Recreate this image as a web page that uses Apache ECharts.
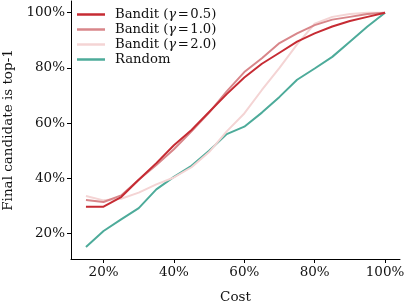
<!DOCTYPE html>
<html><head><meta charset="utf-8">
<script src="https://cdn.jsdelivr.net/npm/echarts@6/dist/echarts.min.js"></script>
<style>html,body{margin:0;padding:0;background:#fff}#c{width:407px;height:305px}</style>
</head><body><div id="c"></div>
<script>
const cost = [15,20,25,30,35,40,45,50,55,60,65,70,75,80,85,90,95,100];
const bandit05 = [29.7,29.7,33.2,39.5,45.5,52,57.5,64,70.5,76.5,81.5,85.5,89.5,92.5,95,97,98.5,100];
const bandit10 = [32.1,31.4,33.8,39.5,44.8,50.5,57,63.8,71.5,78.5,83.5,89,92.5,95.5,97.5,98.5,99.5,100];
const bandit20 = [33.6,32,32.6,34.8,37.8,40.3,44,49.5,57,63.5,72,80,88.5,96,98.5,99.5,100,100];
const random = [15.1,20.9,25.1,29.2,36,40.5,44.5,50,56,58.7,63.8,69.5,75.7,79.8,84,89.5,95,100];
const tickVals = [20,40,60,80,100];
const names = ['Bandit (γ = 0.5)','Bandit (γ = 1.0)','Bandit (γ = 2.0)','Random'];
const gammas = ['0.5','1.0','2.0'];

const font = 'DejaVu Serif';
const fs = 13.5;
const lfs = 13.2;
const colors = ['#c62b33','#d8868a','#f4d4d4','#4dab9a'];
const sets = [bandit05,bandit10,bandit20,random];
const chart = echarts.init(document.getElementById('c'));
chart.setOption({
  animation:false,
  grid:{left:71,right:7,top:1,bottom:46,containLabel:false,outerBoundsMode:'none'},
  legend:{
    left:77, top:7, padding:0, orient:'vertical', icon:'rect', itemWidth:28, itemHeight:2.5, itemGap:0,
    data:names,
    textStyle:{fontFamily:font,fontSize:lfs,color:'#111',lineHeight:15,padding:[0,0,0,5],
      rich:{g:{fontFamily:font,fontStyle:'italic',fontSize:lfs,color:'#111',lineHeight:15},
            e:{fontFamily:font,fontSize:lfs,color:'#111',lineHeight:15,padding:[0,1.5,0,1.5]},
            n:{fontFamily:font,fontSize:lfs,color:'#111',lineHeight:15}}},
    formatter:function(n){
      const i = names.indexOf(n);
      if(i<3) return '{n|Bandit (}{g|γ}{e|=}{n|'+gammas[i]+')}';
      return n;
    }
  },
  xAxis:{type:'value',min:10.75,max:104.25,name:'Cost',nameLocation:'middle',nameGap:31,
    nameTextStyle:{fontFamily:font,fontSize:fs,color:'#111'},
    splitLine:{show:false},
    axisLine:{lineStyle:{color:'#000',width:1}},
    axisTick:{show:true,length:4,lineStyle:{color:'#000'},customValues:tickVals},
    axisLabel:{fontFamily:font,fontSize:fs,color:'#111',margin:6,customValues:tickVals,formatter:v=>v+'%'}},
  yAxis:{type:'value',min:10.75,max:104.25,name:'Final candidate is top-1',nameLocation:'middle',nameGap:56,
    nameTextStyle:{fontFamily:font,fontSize:fs,color:'#111'},
    splitLine:{show:false},
    axisLine:{show:true,lineStyle:{color:'#000',width:1}},
    axisTick:{show:true,length:4,lineStyle:{color:'#000'},customValues:tickVals},
    axisLabel:{fontFamily:font,fontSize:fs,color:'#111',margin:6,customValues:tickVals,formatter:v=>v+'%'}},
  series:names.map((n,i)=>({
    name:n,type:'line',showSymbol:false,symbol:'none',
    data:cost.map((c,j)=>[c,sets[i][j]]),
    lineStyle:{color:colors[i],width:2},itemStyle:{color:colors[i]},z:10-i
  }))
});
</script></body></html>
